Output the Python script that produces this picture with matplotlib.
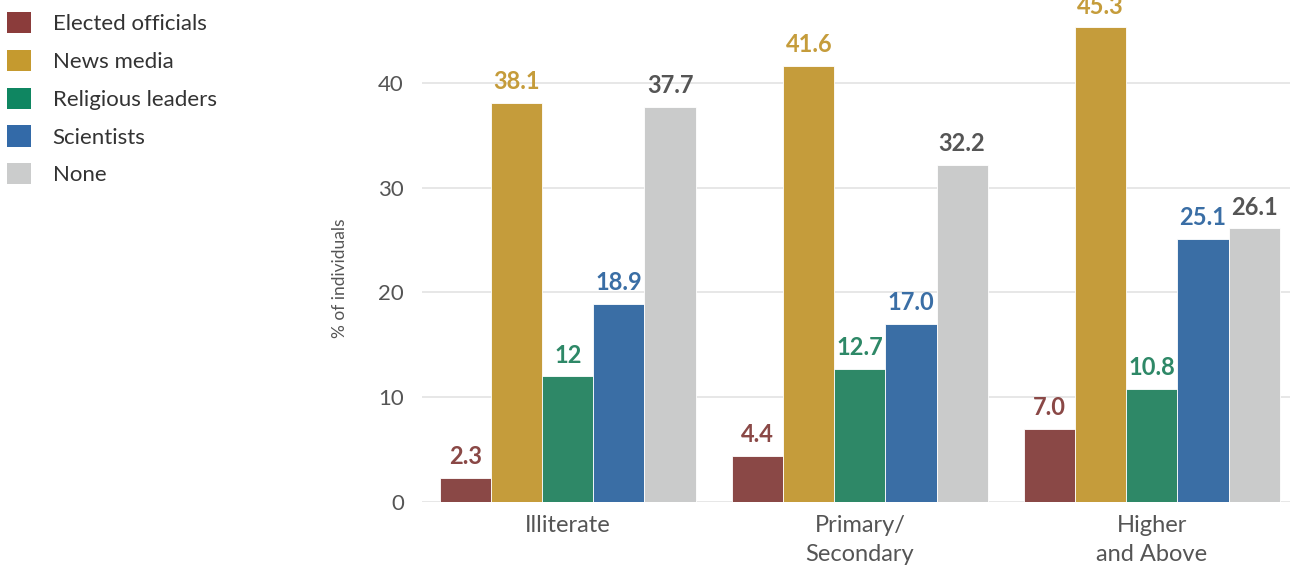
import matplotlib
matplotlib.use("Agg")
import matplotlib.pyplot as plt
from matplotlib.patches import Patch
import numpy as np

plt.rcParams['font.family'] = ['Lato', 'DejaVu Sans']

# Data
categories = ["Illiterate", "Primary/\nSecondary", "Higher\nand Above"]
series_names = ["Elected officials", "News media", "Religious leaders", "Scientists", "None"]
elected = [2.3, 4.4, 7.0]
news = [38.1, 41.6, 45.3]
religious = [12.0, 12.7, 10.8]
scientists = [18.9, 17.0, 25.1]
none_vals = [37.7, 32.2, 26.1]
value_labels = [
    ["2.3", "4.4", "7.0"],
    ["38.1", "41.6", "45.3"],
    ["12", "12.7", "10.8"],
    ["18.9", "17.0", "25.1"],
    ["37.7", "32.2", "26.1"],
]
yticks = [0, 10, 20, 30, 40]

bar_colors = ["#8a4846", "#c59c3b", "#2e8867", "#3a6ea5", "#cacbcb"]
legend_colors = ["#8b3c3b", "#c59a2f", "#0f8661", "#336aa8", "#cbcccc"]
label_colors = ["#8a4846", "#c59c3b", "#2e8867", "#3a6ea5", "#555555"]

series = [elected, news, religious, scientists, none_vals]

fig = plt.figure(figsize=(12.9, 5.65), dpi=100)
ax = fig.add_axes([0.327, 0.1115, 0.673, 0.8885])

x = np.arange(len(categories))
width = 0.175
for i, (vals, col) in enumerate(zip(series, bar_colors)):
    pos = x + (i - 2) * width
    ax.bar(pos, vals, width=width, color=col, edgecolor="white", linewidth=0.6, zorder=3)
    for p, v, lab in zip(pos, vals, value_labels[i]):
        ax.annotate(lab, (p, v), xytext=(0, 7), textcoords="offset points",
                    ha="center", va="bottom", fontsize=17, fontweight="bold",
                    color=label_colors[i], zorder=4)

ax.set_xlim(-0.5, 2.473)
ax.set_ylim(0, 47.9)
ax.set_yticks(yticks)
ax.set_yticklabels([str(t) for t in yticks], fontsize=16, color="#555555")
ax.set_xticks(x)
ax.set_xticklabels(categories, fontsize=17, color="#555555", linespacing=1.45)
ax.grid(axis="y", color="#e3e3e3", linewidth=1.2, zorder=0)
ax.tick_params(axis="y", length=0, pad=13)
ax.tick_params(axis="x", length=0, pad=9.5)
for s in ax.spines.values():
    s.set_visible(False)
ax.set_ylabel("% of individuals", fontsize=12.5, color="#555555")
ax.yaxis.set_label_coords(-0.085, 0.445)

handles = [Patch(facecolor=c, edgecolor="none") for c in legend_colors]
fig.legend(handles, series_names, loc="upper left", bbox_to_anchor=(7 / 1290, 1 - 12 / 565),
           frameon=False, fontsize=16, handlelength=1.1, handleheight=1.1,
           handletextpad=0.95, labelspacing=0.7, borderaxespad=0, borderpad=0,
           labelcolor="#333333")

fig.savefig("out.png", dpi=100)
